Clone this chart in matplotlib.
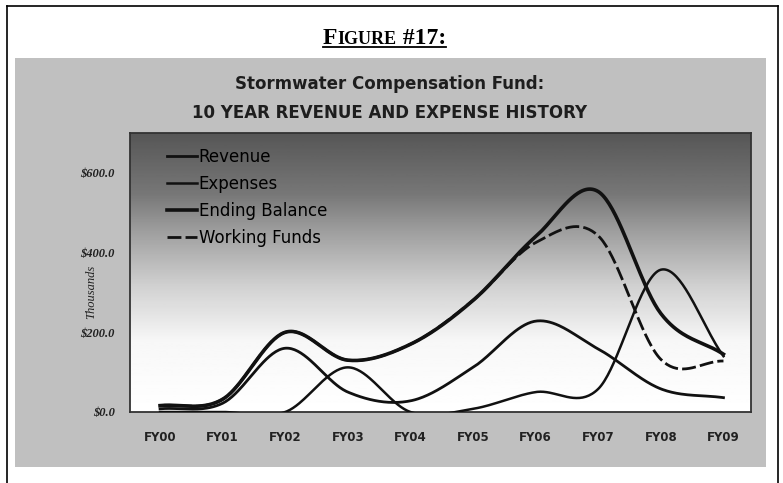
import matplotlib.pyplot as plt
import numpy as np
from matplotlib.patches import Rectangle
from matplotlib.lines import Line2D

# fund history, thousands of dollars
years = ["FY00", "FY01", "FY02", "FY03", "FY04", "FY05", "FY06", "FY07", "FY08", "FY09"]
revenue = [8, 22, 160, 50, 28, 112, 228, 158, 58, 36]
expenses = [0, 0, 0, 112, 0, 8, 50, 58, 357, 140]
ending_balance = [16, 32, 200, 130, 170, 280, 440, 553, 247, 145]
working_funds = [16, 32, 200, 130, 170, 280, 425, 442, 132, 128]

ytick_vals = [0, 200, 400, 600]
ytick_labels = ["$0.0", "$200.0", "$400.0", "$600.0"]


def smooth(vals, n=40):
    # Catmull-Rom curve through the points (like Excel's smoothed line)
    v = np.asarray(vals, dtype=float)
    p = np.concatenate([[2 * v[0] - v[1]], v, [2 * v[-1] - v[-2]]])
    xs, ys = [], []
    t = np.linspace(0, 1, n, endpoint=False)
    h00 = 2 * t**3 - 3 * t**2 + 1
    h10 = t**3 - 2 * t**2 + t
    h01 = -2 * t**3 + 3 * t**2
    h11 = t**3 - t**2
    for i in range(len(v) - 1):
        p0, p1, p2, p3 = p[i:i + 4]
        m1 = (p2 - p0) / 2
        m2 = (p3 - p1) / 2
        xs.append(i + t)
        ys.append(h00 * p1 + h10 * m1 + h01 * p2 + h11 * m2)
    xs.append([len(v) - 1])
    ys.append([v[-1]])
    return np.concatenate(xs), np.concatenate(ys)


fig = plt.figure(figsize=(7.83, 4.83), dpi=100)
fig.patch.set_facecolor("white")

# page frame
fig.add_artist(Line2D([7 / 783, 7 / 783], [0, 1 - 6 / 483], color="black", lw=1.2))
fig.add_artist(Line2D([778 / 783, 778 / 783], [0, 1 - 6 / 483], color="black", lw=1.2))
fig.add_artist(Line2D([7 / 783, 778 / 783], [1 - 6 / 483, 1 - 6 / 483], color="black", lw=1.2))

# grey chart panel
fig.add_artist(Rectangle((15 / 783, 1 - 467 / 483), 751 / 783, 409 / 483,
                         transform=fig.transFigure, facecolor="#c0c0c0",
                         edgecolor="none", zorder=0))

# "FIGURE #17:" in small caps
x0 = 323
yb = 1 - 44 / 483
fig.canvas.draw()
r = fig.canvas.get_renderer()
parts = [("F", 17), ("IGURE", 13), (" #17:", 17)]
for txt, sz in parts:
    t = fig.text(x0 / 783, yb, txt, fontsize=sz, fontweight="bold",
                 family="Liberation Serif", va="baseline", ha="left")
    x0 = t.get_window_extent(renderer=r).x1
fig.add_artist(Line2D([323 / 783, x0 / 783], [1 - 47 / 483, 1 - 47 / 483],
                      color="black", lw=1.3))

fig.text(390 / 783, 1 - 84 / 483, "Stormwater Compensation Fund:",
         ha="center", va="center", fontsize=12, fontweight="heavy", color="#1e1e1e")
fig.text(390 / 783, 1 - 113 / 483, "10 YEAR REVENUE AND EXPENSE HISTORY",
         ha="center", va="center", fontsize=12, fontweight="heavy", color="#1e1e1e")

ax = fig.add_axes([130 / 783, 1 - 412 / 483, 621 / 783, 279 / 483])
ax.set_facecolor("none")
xlim = (-0.48, 9.44)
ylim = (0, 700)

# dark-to-white shading of the plot area
prof = np.interp(np.linspace(0, 1, 200), [0, 0.25, 0.45, 0.65, 0.78, 1.0],
                 [1.0, 0.97, 0.82, 0.62, 0.47, 0.34])
ax.imshow(prof[:, None], extent=[xlim[0], xlim[1], ylim[0], ylim[1]],
          origin="lower", aspect="auto", cmap="gray", vmin=0, vmax=1, zorder=0)

ink = "#111111"
x, y = smooth(revenue)
ax.plot(x, y, color=ink, lw=2.0, label="Revenue", zorder=3)
x, y = smooth(expenses)
ax.plot(x, y, color=ink, lw=1.8, label="Expenses", zorder=3)
x, y = smooth(ending_balance)
ax.plot(x, y, color=ink, lw=2.6, label="Ending Balance", zorder=3)
x, y = smooth(working_funds)
ax.plot(x, y, color=ink, lw=2.0, ls=(0, (5, 1.5)), label="Working Funds", zorder=3)

ax.set_xlim(*xlim)
ax.set_ylim(*ylim)
ax.set_xticks(range(len(years)))
ax.set_xticklabels(years, fontsize=8.5, fontweight="bold", color="#222222")
ax.set_yticks(ytick_vals)
ax.set_yticklabels(ytick_labels, fontsize=9, fontweight="bold", style="italic",
                   family="Liberation Serif", color="#222222")
ax.tick_params(axis="x", length=0, pad=14)
ax.tick_params(axis="y", length=0, pad=11)
for s in ax.spines.values():
    s.set_color("#333333")
    s.set_linewidth(1.3)

ax.set_ylabel("Thousands", fontsize=9, style="italic", family="Liberation Serif",
              color="#222222")
ax.yaxis.set_label_coords(-0.053, 0.43)

ax.legend(loc="upper left", bbox_to_anchor=(0.0596, 0.948), frameon=False,
          fontsize=12, handlelength=1.8, handletextpad=0.1, labelspacing=0.55,
          borderpad=0, borderaxespad=0)

fig.savefig("out.png", dpi=100)
